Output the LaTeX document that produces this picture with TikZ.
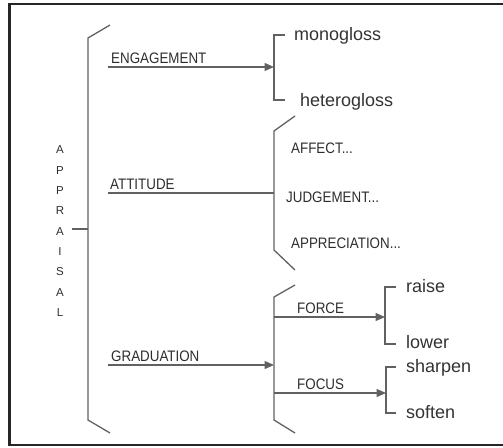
\documentclass[tikz,border=0pt]{standalone}
\usepackage{fontspec}
\setmainfont{Liberation Sans}
\newfontfamily\narrowfont[FakeStretch=0.88]{Liberation Sans}
\usetikzlibrary{
    arrows.meta,
    positioning
}

\begin{document}
\begin{tikzpicture} [x=1pt, y=-1pt,
    line/.style={draw=black!62,line width=1.3pt},
    arrowline/.style={line,-{Triangle[length=9.5pt,width=8pt]}},
    caps/.style={font=\narrowfont\fontsize{15.2}{16}\selectfont,text=black!82,
                 inner sep=0pt,anchor=base west},
    word/.style={font=\fontsize{18}{20}\selectfont,text=black!80,
                 inner sep=0pt,anchor=base west},
    letter/.style={font=\fontsize{11.5}{12}\selectfont,text=black!82,
                 inner sep=0pt}
]
    \useasboundingbox (0,0) rectangle (503,447);
    % frame, open on the right
    \draw[black!85,line width=2.6pt] (503,4) -- (9.5,4) -- (9.5,445) -- (503,445);

    % APPRAISAL, one letter a row
    \foreach \l [count=\i] in {A,P,P,R,A,I,S,A,L}
        \node[letter] (ap-\i) at (60,{150+20.3*(\i-1)}) {\l};
    \coordinate (dash-start) at (72,229);
    \coordinate (appr-mid)   at (88,229);
    \draw[line] (dash-start) -- (appr-mid);

    % main bracket
    \coordinate (main-top) at (88,38);
    \coordinate (main-bot) at (88,420);
    \draw[line] (110,25) -- (main-top) -- (main-bot) -- (110,433);

    % ENGAGEMENT
    \node[caps] (engagement) at (111,63) {ENGAGEMENT};
    \coordinate (eng-start) at (108,67);
    \coordinate (eng-sys)   at (274,67);
    \draw[arrowline] (eng-start) -- (eng-sys);
    \coordinate (mono-tick)   at (274,35);
    \coordinate (hetero-tick) at (274,100);
    \draw[line] (285,35) -- (mono-tick) -- (hetero-tick) -- (285,100);
    \node[word] (monogloss)   at (294,40)  {monogloss};
    \node[word] (heterogloss) at (300,106) {heterogloss};

    % ATTITUDE
    \node[caps] (attitude) at (110,189) {ATTITUDE};
    \coordinate (att-start) at (108,193);
    \coordinate (att-sys)   at (274,193);
    \draw[line] (att-start) -- (att-sys);
    \coordinate (att-top) at (274,131);
    \coordinate (att-bot) at (274,250);
    \draw[line] (295,116) -- (att-top) -- (att-bot) -- (295,270);
    \node[caps] (affect)       at (291,153) {AFFECT...};
    \node[caps] (judgement)    at (286,202) {JUDGEMENT...};
    \node[caps] (appreciation) at (291,248) {APPRECIATION...};

    % GRADUATION
    \node[caps] (graduation) at (111,361) {GRADUATION};
    \coordinate (grad-start) at (108,365);
    \coordinate (grad-sys)   at (274,365);
    \draw[arrowline] (grad-start) -- (grad-sys);
    \coordinate (grad-top) at (274,297);
    \coordinate (grad-bot) at (274,420);
    \draw[line] (295,285) -- (grad-top) -- (grad-bot) -- (295,433);

    % FORCE
    \node[caps] (force) at (297,313) {FORCE};
    \coordinate (force-start) at (274,317);
    \coordinate (force-sys)   at (385,317);
    \draw[arrowline] (force-start) -- (force-sys);
    \coordinate (raise-tick) at (385,287);
    \coordinate (lower-tick) at (385,344);
    \draw[line] (396,287) -- (raise-tick) -- (lower-tick) -- (396,344);
    \node[word] (raise) at (406,292) {raise};
    \node[word] (lower) at (406,348) {lower};

    % FOCUS
    \node[caps] (focus) at (297,389) {FOCUS};
    \coordinate (focus-start) at (274,393);
    \coordinate (focus-sys)   at (386,393);
    \draw[arrowline] (focus-start) -- (focus-sys);
    \coordinate (sharpen-tick) at (386,367);
    \coordinate (soften-tick)  at (386,413);
    \draw[line] (396,367) -- (sharpen-tick) -- (soften-tick) -- (396,413);
    \node[word] (sharpen) at (406,372) {sharpen};
    \node[word] (soften)  at (406,418) {soften};
\end{tikzpicture}
\end{document}
